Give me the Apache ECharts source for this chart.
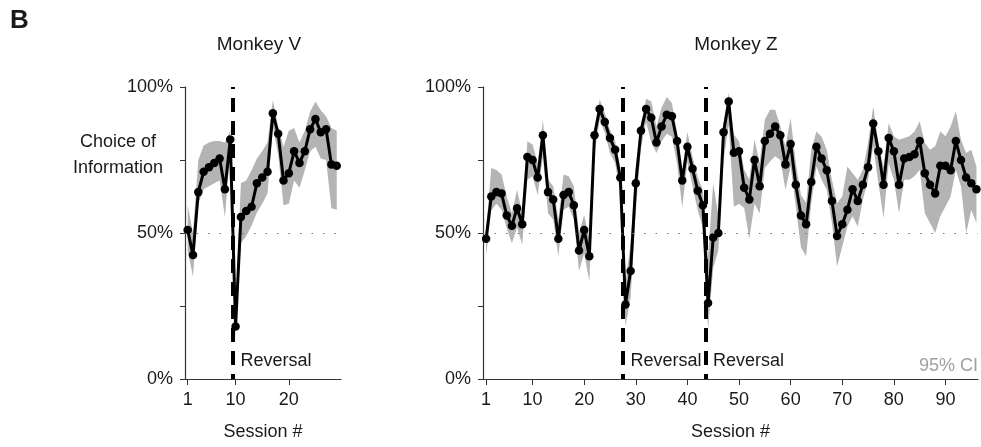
<!DOCTYPE html>
<html>
<head>
<meta charset="utf-8">
<script src="https://cdn.jsdelivr.net/npm/echarts@6/dist/echarts.min.js"></script>
<style>
html, body { margin: 0; padding: 0; background: #fff; }
#chart { width: 981px; height: 447px; }
</style>
</head>
<body>
<div id="chart"></div>
<script>
// Monkey V: sessions 1-29, reversal after session 9
var choiceV = [51, 42.5, 64, 71, 72.5, 74, 75.5, 65, 82, 18, 55.5, 57.5, 59, 67, 69, 71, 91, 84, 68, 70.5, 78, 74, 78, 85.5, 89, 84.5, 85.5, 73.5, 73];
var ciLowV = [44, 35, 60, 65, 66, 67, 68, 55.5, 78, 14, 46.5, 49, 52.5, 57, 60, 63.5, 86.5, 77, 59.5, 60, 68, 65.5, 71.5, 78, 79.5, 75.5, 75, 58.5, 58];
var ciHighV = [59.5, 50, 75, 80, 81, 81.5, 81.5, 81, 85, 24, 67, 68, 71.5, 75.5, 78, 81, 95.5, 86.5, 79.5, 85, 86, 81, 85, 91.5, 95, 92, 90, 86, 85];

// Monkey Z: sessions 1-96, reversals after sessions 27 and 43
var choiceZ = [48, 62.5, 64, 63.5, 56, 52.5, 58.5, 53, 76, 75,
    69, 83.5, 64, 61.5, 48, 63, 64, 59.5, 44, 51,
    42, 83.5, 92.5, 88, 82.5, 78.5, 69, 25.5, 37, 67,
    85, 92.5, 89.5, 81, 86.5, 90.5, 90, 81.5, 68, 79.5,
    72, 64.5, 59.5, 26, 48.5, 50, 84.5, 95, 77.5, 78,
    65.5, 61.5, 75, 66, 81.5, 84, 86.5, 83.5, 73.5, 80.5,
    66.5, 56, 53, 67.5, 79.5, 75.5, 71.5, 61, 49, 53,
    58, 65, 61, 66.5, 72.5, 87.5, 78, 66.5, 82.5, 78,
    66.5, 75.5, 76, 77, 81.5, 70.5, 66.5, 63.5, 73, 73,
    71.5, 81.5, 75, 69, 67, 65];
var ciLowZ = [42, 57.8, 60, 58, 51.6, 46.5, 52, 46, 68.3, 69.4,
    63, 76.3, 56.8, 54.6, 42, 58, 59, 54.6, 37, 43,
    33.5, 77.4, 88.8, 84.3, 77.4, 74, 63.7, 18, 28, 58,
    79, 88, 81, 77.4, 81.4, 84, 83, 73.7, 58.8, 74.3,
    65.9, 57.8, 52, 17, 38, 44, 75, 87, 59, 60,
    58.6, 48, 60, 56.8, 72.3, 74.5, 76.3, 75, 64.8, 72.8,
    59.1, 45, 42, 60.2, 72.8, 68.2, 64.8, 53.4, 38.5, 45.4,
    52.2, 55.7, 52.2, 61.4, 68.2, 79.7, 67.1, 55.1, 73.9, 68.2,
    56.8, 68.2, 68.2, 69.4, 71.7, 56.8, 53.4, 50, 55.7, 59.1,
    62.5, 71.7, 65.9, 50, 57.9, 53.4];
var ciHighZ = [51, 72.3, 71.6, 70, 62.5, 56.8, 64.8, 56.8, 81.4, 80.3,
    74, 88.8, 68.3, 66, 54.6, 70, 69.4, 66, 50, 56.2,
    47.7, 86, 95.7, 91.1, 85.4, 81.4, 72.8, 32.8, 46.5, 73,
    87, 96, 95, 86.5, 93, 96.6, 94.5, 84, 71.4, 84.6,
    76, 69.2, 64.6, 42, 67, 56, 87.6, 98, 83.7, 81.4,
    71.7, 68.3, 82, 74, 88.8, 92.2, 92.2, 86.6, 79.7, 89.4,
    74, 63, 60.3, 78.5, 84.8, 83, 78.5, 68.2, 60.2, 62.5,
    72.8, 70.5, 68.2, 71.7, 80.8, 93.4, 80.8, 72.8, 87.7, 83.1,
    81.9, 82.5, 83.1, 84.8, 88.2, 80.8, 78.5, 79.7, 84.8, 83.1,
    86.5, 91.7, 81.9, 77.4, 78.5, 72.8];

var ticksV = [1, 10, 20];
var ticksZ = [1, 10, 20, 30, 40, 50, 60, 70, 80, 90];
var reversalV = [9.5];
var reversalZ = [27.5, 43.5];
var chanceLevel = 50;

var font = 'Liberation Sans, Arial, sans-serif';
var textColor = '#1a1a1a';
var bandColor = '#b4b4b4';

function pairs(vals) {
    return vals.map(function (v, i) { return [i + 1, v]; });
}

function xAxisFor(idx, min, max, ticks) {
    return {
        type: 'value', gridIndex: idx, min: min, max: max,
        name: 'Session #', nameLocation: 'middle', nameGap: 44,
        nameTextStyle: { color: textColor, fontSize: 18, fontFamily: font },
        axisLine: { lineStyle: { color: '#333', width: 1.2 } },
        axisTick: { show: true, length: 6, customValues: ticks, lineStyle: { color: '#333' } },
        axisLabel: { customValues: ticks, color: textColor, fontSize: 18, fontFamily: font, margin: 12 },
        splitLine: { show: false }
    };
}
function yAxisFor(idx) {
    return {
        type: 'value', gridIndex: idx, min: 0, max: 100, interval: 25,
        axisLine: { show: true, lineStyle: { color: '#333', width: 1.2 } },
        axisTick: { show: true, length: 5, lineStyle: { color: '#333' } },
        axisLabel: {
            color: textColor, fontSize: 18, fontFamily: font, margin: 12,
            formatter: function (v) { return v % 50 === 0 ? v + '%' : ''; }
        },
        splitLine: { show: false }
    };
}

function panelSeries(idx, choice, lo, hi, reversals) {
    var marks = [{ yAxis: chanceLevel, lineStyle: { color: '#777', width: 1, type: [1.5, 10] } }];
    reversals.forEach(function (r) {
        marks.push({ xAxis: r, lineStyle: { color: '#000', width: 4, type: [14, 9], dashOffset: 9 } });
    });
    var bandData = lo.map(function (v, i) { return [i + 1, v, hi[i]]; });
    return [
        {
            // 95% CI band drawn as one polygon through the axis scales
            type: 'custom', xAxisIndex: idx, yAxisIndex: idx, silent: true, z: 1,
            data: bandData, clip: true,
            encode: { x: 0, y: [1, 2] },
            renderItem: function (params, api) {
                if (params.dataIndex !== 0) return null;
                var top = [], bottom = [];
                for (var i = 0; i < bandData.length; i++) {
                    top.push(api.coord([bandData[i][0], bandData[i][2]]));
                    bottom.unshift(api.coord([bandData[i][0], bandData[i][1]]));
                }
                return {
                    type: 'polygon',
                    shape: { points: top.concat(bottom) },
                    style: { fill: bandColor, stroke: null }
                };
            }
        },
        {
            type: 'line', xAxisIndex: idx, yAxisIndex: idx,
            data: pairs(choice), symbol: 'circle', symbolSize: 8.5,
            itemStyle: { color: '#000' }, lineStyle: { color: '#000', width: 3 }, z: 3,
            markLine: {
                silent: true, symbol: ['none', 'none'], label: { show: false },
                data: marks, z: 4
            },
            markPoint: {
                silent: true, symbol: 'circle', symbolSize: 1,
                itemStyle: { color: 'rgba(0,0,0,0)' },
                label: {
                    show: true, position: 'right', distance: 7, formatter: 'Reversal',
                    color: textColor, fontSize: 18, fontFamily: font
                },
                data: reversals.map(function (r) { return { coord: [r, 6] }; })
            }
        }
    ];
}

var chart = echarts.init(document.getElementById('chart'));
chart.setOption({
    animation: false,
    backgroundColor: '#fff',
    grid: [
        { left: 185, top: 87, width: 156, height: 292 },
        { left: 483, top: 87, width: 495, height: 292 }
    ],
    xAxis: [xAxisFor(0, 0.5, 29.8, ticksV), xAxisFor(1, 0.4, 96.3, ticksZ)],
    yAxis: [yAxisFor(0), yAxisFor(1)],
    graphic: [
        { type: 'text', left: 10, top: 8, style: { text: 'B', fontSize: 26, fontWeight: 'bold', fontFamily: font, fill: textColor } },
        { type: 'text', x: 259, y: 45, style: { text: 'Monkey V', fontSize: 19, fontFamily: font, fill: textColor, align: 'center', verticalAlign: 'middle' } },
        { type: 'text', x: 736, y: 45, style: { text: 'Monkey Z', fontSize: 19, fontFamily: font, fill: textColor, align: 'center', verticalAlign: 'middle' } },
        { type: 'text', x: 118, y: 155, style: { text: 'Choice of\nInformation', fontSize: 18, lineHeight: 26, fontFamily: font, fill: textColor, align: 'center', verticalAlign: 'middle' } },
        { type: 'text', x: 978, y: 366, style: { text: '95% CI', fontSize: 18, fontFamily: font, fill: '#a0a0a0', align: 'right', verticalAlign: 'middle' } }
    ],
    series: panelSeries(0, choiceV, ciLowV, ciHighV, reversalV)
        .concat(panelSeries(1, choiceZ, ciLowZ, ciHighZ, reversalZ))
});
</script>
</body>
</html>
